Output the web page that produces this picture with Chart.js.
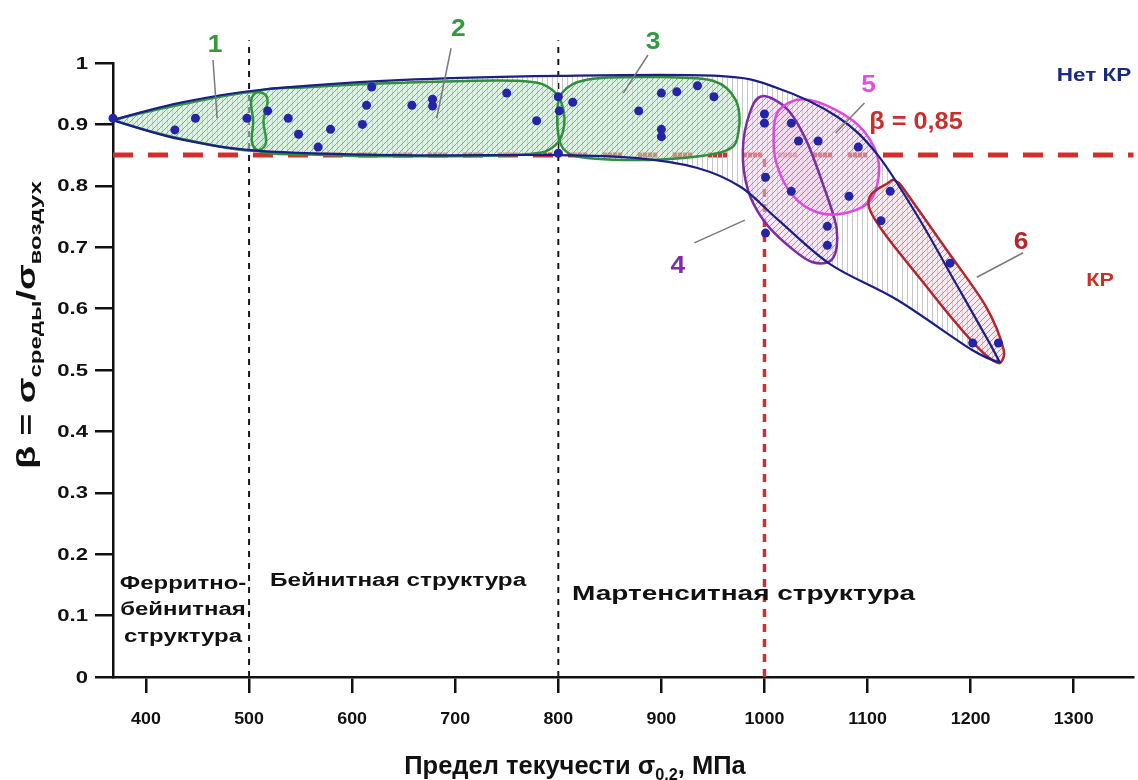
<!DOCTYPE html>
<html>
<head>
<meta charset="utf-8">
<script src="https://cdn.jsdelivr.net/npm/chart.js@4.4.1/dist/chart.umd.min.js"></script>
<style>
html,body{margin:0;padding:0;background:#fff;}
canvas{display:block;}
</style>
</head>
<body>
<canvas id="c" width="1138" height="780"></canvas>
<script>
// ---------- DATA ----------
const xTicks = [400, 500, 600, 700, 800, 900, 1000, 1100, 1200, 1300];
const yTicks = [0, 0.1, 0.2, 0.3, 0.4, 0.5, 0.6, 0.7, 0.8, 0.9, 1];
const yTickLabels = ['0', '0.1', '0.2', '0.3', '0.4', '0.5', '0.6', '0.7', '0.8', '0.9', '1'];
const betaThreshold = 0.85;
const structureBounds = [500, 800];
const strengthBound = 1000;

// measured points: [yield strength, beta]
const samples = [
  [368,0.910],[428,0.891],[448,0.910],[498,0.910],[518,0.922],[538,0.910],[548,0.884],[567,0.863],
  [579,0.892],[610,0.900],[614,0.931],[619,0.961],[658,0.931],[678,0.941],[678,0.930],[750,0.951],
  [779,0.906],[800,0.945],[801,0.922],[814,0.936],[800,0.853],[878,0.922],[900,0.951],[915,0.953],
  [935,0.963],[951,0.945],[900,0.892],[900,0.880],[1000,0.917],[1000,0.902],[1001,0.814],[1001,0.723],
  [1026,0.902],[1033,0.873],[1052,0.873],[1091,0.863],[1026,0.791],[1082,0.783],[1061,0.734],[1061,0.703],
  [1122,0.791],[1113,0.743],[1180,0.674],[1202,0.544],[1227,0.544]
];

// outlines (data coordinates)
const envelope = [
  [368,0.907],[433,0.935],[510,0.956],[645,0.972],[800,0.979],[955,0.979],[1013,0.959],[1071,0.912],
  [1109,0.852],[1148,0.752],[1186,0.640],[1218,0.545],[1228,0.513],
  [1201,0.533],[1129,0.614],[1064,0.672],[1013,0.745],[977,0.798],[935,0.829],[877,0.845],[800,0.850],
  [645,0.850],[510,0.857],[433,0.876]
];
const group1 = [[368,0.907],[433,0.932],[511,0.952],[514,0.905],[509,0.858],[433,0.877]];
const group2 = [[507,0.952],[560,0.961],[650,0.968],[760,0.971],[795,0.955],[806,0.910],[797,0.866],[765,0.851],[650,0.848],[560,0.851],[508,0.858],[504,0.905]];
const group3 = [[804,0.952],[832,0.974],[900,0.977],[950,0.971],[972,0.940],[975,0.890],[962,0.857],[900,0.843],[830,0.845],[805,0.860],[799,0.905]];
const group4 = [[998,0.946],[1022,0.925],[1040,0.876],[1056,0.806],[1070,0.730],[1066,0.681],[1046,0.676],[1022,0.704],[999,0.744],[984,0.793],[979,0.858],[986,0.920]];
const group5 = [[1014,0.923],[1037,0.941],[1070,0.923],[1097,0.888],[1111,0.836],[1104,0.779],[1080,0.756],[1051,0.757],[1027,0.785],[1012,0.834],[1009,0.883]];
const group6 = [[1121,0.806],[1102,0.762],[1160,0.630],[1209,0.533],[1228,0.511],[1232,0.533],[1215,0.603],[1177,0.695],[1138,0.788],[1129,0.806]];

const groupLabels = ['1','2','3','4','5','6'];
const labelPos = [[467,1.029],[703,1.054],[892,1.034],[916,0.668],[1101,0.964],[1249,0.708]];
const leaders = [
  [[465,1.005],[469,0.910]],
  [[696,1.024],[682,0.910]],
  [[887,1.013],[863,0.951]],
  [[932,0.707],[981,0.744]],
  [[1097,0.935],[1069,0.886]],
  [[1251,0.691],[1206,0.651]]
];

// ---------- HELPERS ----------
const FONT = '"Liberation Sans", Arial, sans-serif';

function makePattern(bg, line, kind, step) {
  const c = document.createElement('canvas');
  c.width = step; c.height = step;
  const g = c.getContext('2d');
  if (bg) { g.fillStyle = bg; g.fillRect(0,0,step,step); }
  g.strokeStyle = line; g.lineWidth = 1;
  g.beginPath();
  if (kind === 'v') {
    g.moveTo(step/2, 0); g.lineTo(step/2, step);
  } else {
    g.moveTo(0, step); g.lineTo(step, 0);
    g.moveTo(-step/2, step/2); g.lineTo(step/2, -step/2);
    g.moveTo(step/2, step*1.5); g.lineTo(step*1.5, step/2);
  }
  g.stroke();
  return g.createPattern(c, 'repeat');
}

function closedCurve(ctx, pts, corners) {
  const n = pts.length;
  const tan = i => {
    if (corners && corners.includes(i)) return [0,0];
    const a = pts[(i-1+n)%n], b = pts[(i+1)%n];
    return [(b[0]-a[0])/6, (b[1]-a[1])/6];
  };
  ctx.beginPath();
  ctx.moveTo(pts[0][0], pts[0][1]);
  for (let i = 0; i < n; i++) {
    const p = pts[i], q = pts[(i+1)%n];
    const t1 = tan(i), t2 = tan((i+1)%n);
    ctx.bezierCurveTo(p[0]+t1[0], p[1]+t1[1], q[0]-t2[0], q[1]-t2[1], q[0], q[1]);
  }
  ctx.closePath();
}

function sText(ctx, text, x, y, sx, align) {
  ctx.save();
  ctx.translate(x, y);
  ctx.scale(sx, 1);
  ctx.textAlign = align || 'center';
  ctx.fillText(text, 0, 0);
  ctx.restore();
}

function drawShapes(chart) {
  const {ctx, scales:{x, y}} = chart;
  const px = arr => arr.map(p => [x.getPixelForValue(p[0]), y.getPixelForValue(p[1])]);
  const green = makePattern('rgba(196,234,208,0.55)', 'rgba(110,140,120,0.75)', 'd', 6);
  const pink = makePattern('rgba(242,208,236,0.5)', 'rgba(140,120,135,0.75)', 'd', 6);
  const rose = makePattern('rgba(242,214,222,0.5)', 'rgba(140,120,125,0.75)', 'd', 6);
  const vert = makePattern(null, '#c9c9c9', 'v', 5);
  const env = px(envelope);
  ctx.save();
  closedCurve(ctx, env, [0, 12]);
  ctx.fillStyle = vert; ctx.fill();
  const groups = [
    {p: group1, fill: green, stroke: '#2f9a3e', c:[0]},
    {p: group2, fill: green, stroke: '#2f8f3a'},
    {p: group3, fill: green, stroke: '#2f8f3a'},
    {p: group4, fill: pink, stroke: '#7d2ca6'},
    {p: group5, fill: pink, stroke: '#e048e0'},
    {p: group6, fill: rose, stroke: '#b3262e', c:[4]}
  ];
  groups.forEach(g => {
    closedCurve(ctx, px(g.p), g.c);
    ctx.fillStyle = g.fill; ctx.fill();
  });
  groups.forEach(g => {
    closedCurve(ctx, px(g.p), g.c);
    ctx.strokeStyle = g.stroke; ctx.lineWidth = 2.5; ctx.stroke();
  });
  closedCurve(ctx, env, [0, 12]);
  ctx.strokeStyle = '#1b1f86'; ctx.lineWidth = 2.2; ctx.stroke();
  ctx.restore();
}

const shapesPlugin = {
  id: 'shapes',
  afterDatasetDraw(chart, args) {
    if (args.index === 1) drawShapes(chart);
  },
  afterDraw(chart) {
    const {ctx, scales:{x, y}} = chart;
    const X = v => x.getPixelForValue(v), Y = v => y.getPixelForValue(v);
    ctx.save();
    // tick labels
    ctx.fillStyle = '#111';
    ctx.textBaseline = 'middle';
    ctx.font = 'bold 17px ' + FONT;
    xTicks.forEach(v => sText(ctx, String(v), X(v), 719, 1.05, 'center'));
    ctx.font = 'bold 17px ' + FONT;
    yTicks.forEach((v, i) => sText(ctx, yTickLabels[i], 88, Y(v) + 1, 1.3, 'right'));

    // leader lines
    ctx.strokeStyle = '#7a7a7a'; ctx.lineWidth = 1.5;
    leaders.forEach(l => {
      ctx.beginPath(); ctx.moveTo(X(l[0][0]), Y(l[0][1])); ctx.lineTo(X(l[1][0]), Y(l[1][1])); ctx.stroke();
    });
    const numColors = ['#2f9a3e','#2f9a3e','#2f9a3e','#7d2ca6','#e050e0','#b3262e'];
    ctx.font = 'bold 24px ' + FONT;
    groupLabels.forEach((t, i) => {
      ctx.fillStyle = numColors[i];
      sText(ctx, t, X(labelPos[i][0]), Y(labelPos[i][1]), 1.1, 'center');
    });
    // annotation texts
    ctx.font = 'bold 18px ' + FONT;
    ctx.fillStyle = '#1b2a80';
    sText(ctx, 'Нет КР', 1094, 76, 1.25, 'center');
    ctx.fillStyle = '#c8302c';
    sText(ctx, 'КР', 1100, 281, 1.2, 'center');
    ctx.font = 'bold 23px ' + FONT;
    sText(ctx, 'β = 0,85', 916, 123, 1.1, 'center');
    ctx.font = 'bold 18px ' + FONT;
    ctx.fillStyle = '#111';
    sText(ctx, 'Ферритно-', 183, 584, 1.33, 'center');
    sText(ctx, 'бейнитная', 183, 610, 1.33, 'center');
    sText(ctx, 'структура', 183, 637, 1.33, 'center');
    sText(ctx, 'Бейнитная структура', 270, 581, 1.35, 'left');
    ctx.font = 'bold 20px ' + FONT;
    sText(ctx, 'Мартенситная структура', 572, 594, 1.4, 'left');

    // titles with subscripts
    const drawRich = (parts, cx, cy, bigSize, smallSize, sx) => {
      const big = 'bold ' + bigSize + 'px ' + FONT, small = 'bold ' + smallSize + 'px ' + FONT;
      let w = 0;
      parts.forEach(p => { ctx.font = p.sub ? small : big; w += ctx.measureText(p.t).width; });
      ctx.save();
      ctx.translate(cx, cy);
      ctx.scale(sx, 1);
      let xx = -w/2;
      ctx.textAlign = 'left'; ctx.textBaseline = 'alphabetic';
      parts.forEach(p => {
        ctx.font = p.sub ? small : big;
        ctx.fillText(p.t, xx, p.sub ? 6 : 0);
        xx += ctx.measureText(p.t).width;
      });
      ctx.restore();
    };
    ctx.fillStyle = '#111';
    drawRich([{t:'Предел текучести σ'},{t:'0,2',sub:true},{t:', МПа'}], 575, 774, 25, 16, 1.02);
    ctx.save();
    ctx.translate(35, 325);
    ctx.rotate(-Math.PI/2);
    drawRich([{t:'β = σ'},{t:'среды',sub:true},{t:'/σ'},{t:'воздух',sub:true}], 0, 0, 25, 16, 1.5);
    ctx.restore();
    ctx.restore();
  }
};

const vline = (xv, y0, y1, color, w, dash) => ({
  type: 'line', data: [{x: xv, y: y0}, {x: xv, y: y1}], borderColor: color, borderWidth: w,
  borderDash: dash, pointRadius: 0, clip: false, tension: 0
});

const chart = new Chart(document.getElementById('c'), {
  type: 'scatter',
  data: {
    datasets: [
      {
        type: 'scatter', data: samples.map(s => ({x: s[0], y: s[1]})),
        backgroundColor: '#2424a8', borderWidth: 0, pointRadius: 4.5, clip: false
      },
      {
        type: 'line', data: [{x: 368, y: betaThreshold}, {x: 1358, y: betaThreshold}],
        borderColor: '#d0302c', borderWidth: 5, borderDash: [20, 15], pointRadius: 0, clip: false
      },
      vline(strengthBound, 0, betaThreshold, '#d0302c', 3.5, [8, 7]),
      vline(structureBounds[0], 0, 1.037, '#1a1a1a', 2, [6, 6]),
      vline(structureBounds[1], 0, 1.037, '#1a1a1a', 2, [6, 6])
    ]
  },
  options: {
    responsive: false, animation: false,
    layout: {padding: {top: 63, right: 0, left: 0, bottom: 0}},
    plugins: {legend: {display: false}, tooltip: {enabled: false}},
    scales: {
      x: {
        type: 'linear', min: 368, max: 1358,
        afterBuildTicks: s => { s.ticks = xTicks.map(v => ({value: v})); },
        afterFit: s => { s.height = 103; },
        ticks: {display: false},
        grid: {drawOnChartArea: false, drawTicks: true, tickLength: 16, color: '#111', lineWidth: 2.5},
        border: {color: '#111', width: 2.5}
      },
      y: {
        min: 0, max: 1,
        afterBuildTicks: s => { s.ticks = yTicks.map(v => ({value: v})); },
        afterFit: s => { s.width = 113; },
        ticks: {display: false},
        grid: {drawOnChartArea: false, drawTicks: true, tickLength: 18, color: '#111', lineWidth: 2.5},
        border: {color: '#111', width: 2.5}
      }
    }
  },
  plugins: [shapesPlugin]
});
</script>
</body>
</html>
